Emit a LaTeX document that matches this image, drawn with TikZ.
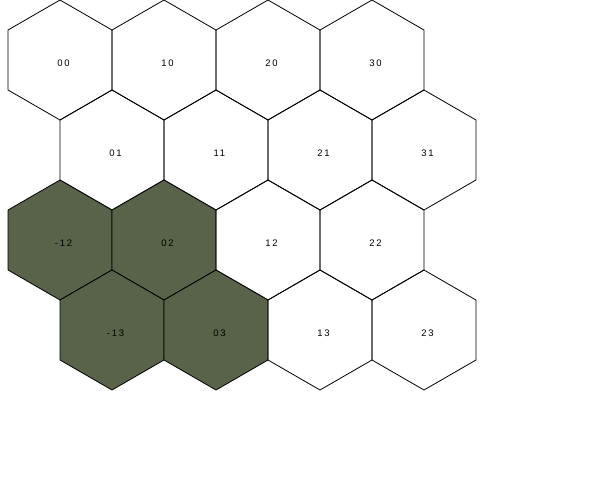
\documentclass[tikz,border=0pt]{standalone}
\usepackage{fontspec}
\setmainfont{Liberation Sans}
\usetikzlibrary{shapes.geometric}
\definecolor{moss}{HTML}{58634A}
\tikzset{hexcell/.style={draw,regular polygon,regular polygon sides=6,shape border rotate=30,
    minimum size=120pt,inner sep=0pt,line width=0.8pt},
  taken/.style={hexcell,fill=moss},
  hexlabel/.style={xshift=3.5pt,yshift=-3pt,inner sep=0pt,
    font=\addfontfeature{LetterSpace=18}\fontsize{9.5}{10}\selectfont}}

\begin{document}
\begin{tikzpicture}[x=1pt,y=-1pt]
\useasboundingbox (0,0) rectangle (592,480);
% grid of cells: column/row/label/style
\foreach \c/\r/\txt/\sty in {0/0/00/hexcell,1/0/10/hexcell,2/0/20/hexcell,3/0/30/hexcell,
    0/1/01/hexcell,1/1/11/hexcell,2/1/21/hexcell,3/1/31/hexcell,
    0/2/-12/taken,1/2/02/taken,2/2/12/hexcell,3/2/22/hexcell,
    0/3/-13/taken,1/3/03/taken,2/3/13/hexcell,3/3/23/hexcell}
  \node[\sty,label={[hexlabel]center:\txt}] (hex\c\r) at ({60+104*\c+52*mod(\r,2)},{60+90*\r}) {};
\end{tikzpicture}
\end{document}
